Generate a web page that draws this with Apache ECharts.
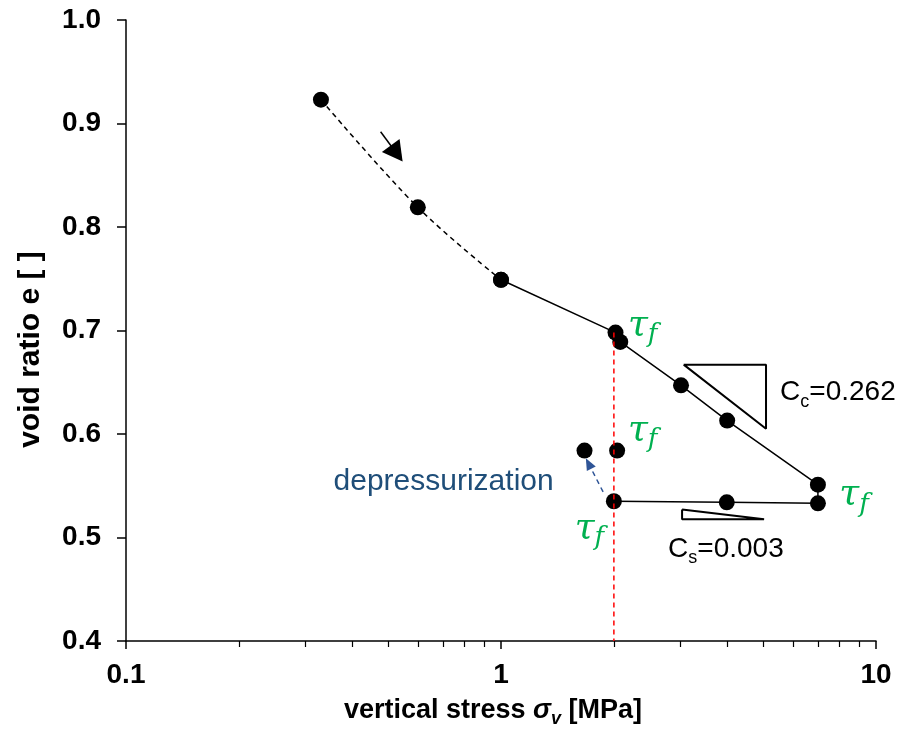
<!DOCTYPE html>
<html>
<head>
<meta charset="utf-8">
<script src="https://cdn.jsdelivr.net/npm/echarts@6/dist/echarts.min.js"></script>
<style>html,body{margin:0;padding:0;background:#fff}#c{width:909px;height:736px}</style>
</head>
<body>
<div id="c"></div>
<script>
// ---- data ----
const loadX = [0.331, 0.6, 1.0];
const loadY = [0.923, 0.819, 0.749];
const pathX = [1.0, 2.02, 2.08, 3.02, 4.01, 7.0, 7.0, 4.0, 2.0];
const pathY = [0.749, 0.698, 0.689, 0.647, 0.613, 0.551, 0.533, 0.534, 0.535];
const depX = [2.04, 1.67];
const depY = [0.584, 0.584];
const refLineX = [2.0, 2.0];
const refLineY = [0.698, 0.4];
const ccTriX = [3.07, 5.09, 5.09, 3.07];
const ccTriY = [0.667, 0.667, 0.605, 0.667];
const csTriX = [3.04, 3.04, 5.03, 3.04];
const csTriY = [0.527, 0.5177, 0.5177, 0.527];
const xMajorTicks = [0.1, 1, 10];
const xMinorTicks = [0.2,0.3,0.4,0.5,0.6,0.7,0.8,0.9,2,3,4,5,6,7,8,9];
const loadArrow = [[0.4775, 0.892], [0.527, 0.871]];
const depArrow = [[1.872, 0.544], [1.712, 0.5715]];
const tauPos = [[2.18, 0.705], [2.18, 0.6035], [7.98, 0.541], [1.572, 0.509]];
const depText = {text: 'depressurization', x: 0.703, y: 0.5534};
const ccText = {x: 5.55, y: 0.640, sub: 'c', value: '=0.262'};
const csText = {x: 2.79, y: 0.4888, sub: 's', value: '=0.003'};

const zip = (a, b) => a.map((v, i) => [v, b[i]]);
const SANS = 'Liberation Sans, Arial, sans-serif';
const SERIF = 'DejaVu Serif, serif';
const GREEN = '#00B050';

const tauRich = {
  t: {fontFamily: SERIF, fontStyle: 'italic', fontSize: 36, lineHeight: 36, color: GREEN, verticalAlign: 'top'},
  s: {fontFamily: SERIF, fontStyle: 'italic', fontSize: 26, lineHeight: 26, color: GREEN, verticalAlign: 'top', padding: [15, 0, 0, 0]}
};
const cRich = {
  a: {fontFamily: SANS, fontSize: 28, lineHeight: 28, color: '#000', verticalAlign: 'top'},
  b: {fontFamily: SANS, fontSize: 18, lineHeight: 18, color: '#000', verticalAlign: 'top', padding: [14, 0, 0, 0]}
};

const annotations = [];
tauPos.forEach(p => annotations.push({value: p, label: {formatter: '{t|τ}{s|f}', rich: tauRich}}));
annotations.push({value: [depText.x, depText.y], label: {formatter: depText.text, fontFamily: SANS, fontSize: 30, color: '#1F4E79', align: 'center'}});
annotations.push({value: [ccText.x, ccText.y], label: {formatter: '{a|C}{b|' + ccText.sub + '}{a|' + ccText.value + '}', rich: cRich}});
annotations.push({value: [csText.x, csText.y], label: {formatter: '{a|C}{b|' + csText.sub + '}{a|' + csText.value + '}', rich: cRich}});

const chart = echarts.init(document.getElementById('c'), null, {renderer: 'canvas'});
chart.setOption({
  animation: false,
  backgroundColor: '#fff',
  grid: {left: 126, right: 33, top: 20, bottom: 95},
  xAxis: [{
    type: 'log', logBase: 10, min: 0.1, max: 10,
    name: '{a|vertical stress }{g|σ}{v|v}{a| [MPa]}',
    nameLocation: 'middle', nameGap: 56,
    nameTextStyle: {
      padding: [0, 16, 0, 0],
      rich: {
        a: {fontFamily: SANS, fontWeight: 'bold', fontSize: 27, lineHeight: 27, color: '#000', verticalAlign: 'top'},
        g: {fontFamily: SANS, fontWeight: 'bold', fontStyle: 'italic', fontSize: 27, lineHeight: 27, color: '#000', verticalAlign: 'top'},
        v: {fontFamily: SANS, fontWeight: 'bold', fontStyle: 'italic', fontSize: 18, lineHeight: 18, color: '#000', verticalAlign: 'top', padding: [13, 0, 0, 0]}
      }
    },
    axisLine: {show: true, onZero: false, lineStyle: {color: '#000', width: 1.5}},
    axisTick: {show: true, length: 8, customValues: xMajorTicks, lineStyle: {color: '#000', width: 1.5}},
    axisLabel: {customValues: xMajorTicks, formatter: v => String(v), fontFamily: SANS, fontWeight: 'bold', fontSize: 28, color: '#000', margin: 20},
    splitLine: {show: false}
  }, {
    type: 'log', logBase: 10, min: 0.1, max: 10, position: 'bottom',
    axisLine: {show: false},
    axisTick: {show: true, length: 6, customValues: xMinorTicks, lineStyle: {color: '#000', width: 1.2}},
    axisLabel: {show: false},
    splitLine: {show: false}
  }],
  yAxis: {
    type: 'value', min: 0.4, max: 1.0, interval: 0.1,
    name: 'void ratio e [ ]',
    nameLocation: 'middle', nameGap: 80,
    nameTextStyle: {padding: [0, 38, 0, 0], fontFamily: SANS, fontWeight: 'bold', fontSize: 30, color: '#000'},
    axisLine: {show: true, onZero: false, lineStyle: {color: '#000', width: 1.5}},
    axisTick: {show: true, length: 9, lineStyle: {color: '#000', width: 1.5}},
    axisLabel: {formatter: v => v.toFixed(1), fontFamily: SANS, fontWeight: 'bold', fontSize: 28, color: '#000', margin: 25},
    splitLine: {show: false}
  },
  series: [
    {type: 'line', data: zip(loadX, loadY), smooth: 0.35, symbol: 'circle', symbolSize: 16,
     itemStyle: {color: '#000'}, lineStyle: {color: '#000', width: 1.5, type: [5, 4]}, z: 3,
     markLine: {silent: true, symbol: ['none', 'triangle'], symbolSize: [22, 20], label: {show: false},
       lineStyle: {color: '#000', width: 1.5, type: 'solid'},
       data: [[{coord: loadArrow[0]}, {coord: loadArrow[1]}]]}},
    {type: 'line', data: zip(pathX, pathY), symbol: 'circle', symbolSize: 16,
     itemStyle: {color: '#000'}, lineStyle: {color: '#000', width: 1.5}, z: 3},
    {type: 'scatter', data: zip(depX, depY), symbol: 'circle', symbolSize: 16, itemStyle: {color: '#000', opacity: 1}, z: 3,
     markLine: {silent: true, symbol: ['none', 'triangle'], symbolSize: [10, 12], label: {show: false},
       lineStyle: {color: '#2F5597', width: 1.5, type: [5, 4]},
       data: [[{coord: depArrow[0]}, {coord: depArrow[1]}]]}},
    {type: 'line', data: zip(refLineX, refLineY), showSymbol: false, symbol: 'none',
     lineStyle: {color: '#FF0000', width: 1.5, type: [5, 4]}, z: 6},
    {type: 'line', data: zip(ccTriX, ccTriY), symbol: 'none', lineStyle: {color: '#000', width: 2}, z: 2},
    {type: 'line', data: zip(csTriX, csTriY), symbol: 'none', lineStyle: {color: '#000', width: 2}, z: 2},
    {type: 'scatter', data: annotations, symbolSize: 0, itemStyle: {color: 'transparent', opacity: 1}, z: 7,
     label: {show: true, position: [0, 0], align: 'left', verticalAlign: 'middle'}}
  ]
});
</script>
</body>
</html>
